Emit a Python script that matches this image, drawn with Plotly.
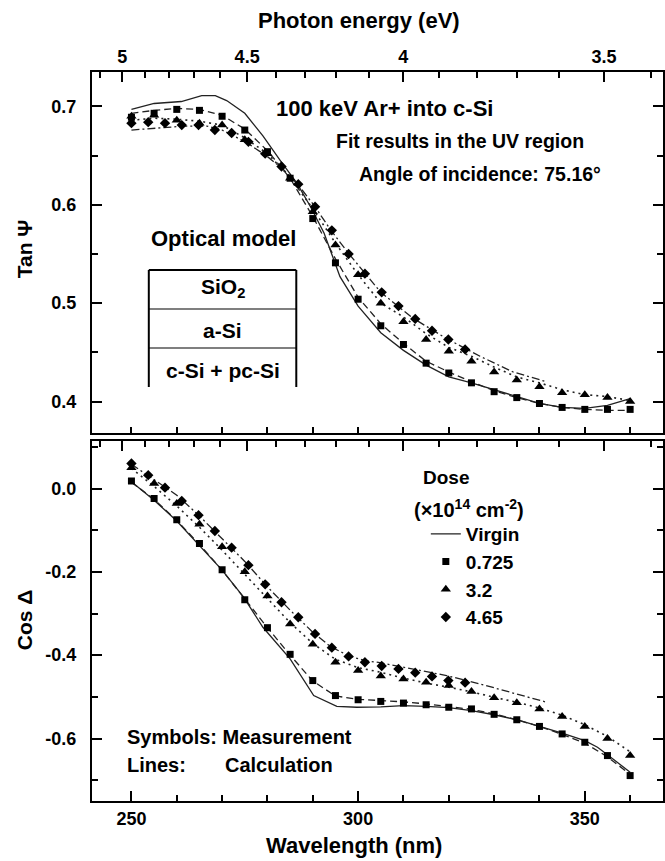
import plotly.graph_objects as go

# ---------------- data ----------------
wl = [250, 255, 260, 265, 270, 275, 280, 285, 290, 295, 300, 305,
      310, 315, 320, 325, 330, 335, 340, 345, 350, 355, 360]
wl_dia = [250, 253.7, 257.4, 261.1, 264.8, 268.4, 272.1, 275.8, 279.5, 283.1, 286.8,
          290.5, 294.2, 297.9, 301.5, 305.2, 308.9, 312.6, 316.3, 319.9, 323.6]

# Tan Psi, measurements
tan_sq = [0.689, 0.693, 0.697, 0.696, 0.690, 0.676, 0.654, 0.627, 0.586, 0.541, 0.504, 0.477,
          0.458, 0.439, 0.429, 0.419, 0.410, 0.404, 0.398, 0.394, 0.392, 0.392, 0.392]
tan_tri = [0.690, 0.691, 0.686, 0.683, 0.681, 0.666, 0.652, 0.627, 0.593, 0.559, 0.529, 0.500,
           0.481, 0.463, 0.451, 0.441, 0.430, 0.422, 0.415, 0.409, 0.407, 0.404, 0.400]
tan_dia = [0.683, 0.684, 0.683, 0.681, 0.681, 0.676, 0.673, 0.664, 0.652, 0.639, 0.621,
           0.598, 0.574, 0.550, 0.530, 0.511, 0.497, 0.484, 0.472, 0.463, 0.453]
# Tan Psi, calculations
wl_virgin_tan = [250, 255, 261, 265.5, 268.5, 271, 275, 279, 283, 286.5, 289.5, 292.5, 296,
                 300, 305, 310, 315, 320, 325, 330, 335, 340, 345, 350, 355, 360]
tan_virgin = [0.697, 0.703, 0.705, 0.711, 0.711, 0.706, 0.693, 0.670, 0.644, 0.622, 0.598, 0.571,
              0.527, 0.497, 0.470, 0.452, 0.437, 0.425, 0.419, 0.412, 0.405, 0.398, 0.394,
              0.393, 0.396, 0.403]
tan_fit_sq = [0.693, 0.696, 0.698, 0.697, 0.691, 0.677, 0.655, 0.627, 0.588, 0.545, 0.506, 0.479,
              0.459, 0.441, 0.430, 0.420, 0.411, 0.404, 0.398, 0.394, 0.392, 0.391, 0.391]
tan_fit_tri = [0.686, 0.688, 0.687, 0.685, 0.681, 0.668, 0.652, 0.628, 0.596, 0.561, 0.529, 0.500,
               0.486, 0.469, 0.455, 0.446, 0.435, 0.425, 0.419, 0.412, 0.407, 0.405, 0.401]
wl_fit_dia_tan = [250, 255.6, 261.5, 266.6, 270, 275.5, 280, 283.5, 287, 290.5, 294, 298,
                  301.5, 305, 312, 319.5, 326.9, 334.2, 341.6]
tan_fit_dia = [0.676, 0.678, 0.680, 0.680, 0.676, 0.663, 0.649, 0.636, 0.619, 0.598, 0.574,
               0.550, 0.530, 0.511, 0.485, 0.464, 0.446, 0.430, 0.420]

# Cos Delta, measurements
cos_sq = [0.018, -0.024, -0.075, -0.132, -0.195, -0.267, -0.334, -0.398, -0.461, -0.497, -0.507,
          -0.511, -0.515, -0.519, -0.525, -0.529, -0.542, -0.555, -0.571, -0.589, -0.609,
          -0.641, -0.689]
cos_tri = [0.050, 0.012, -0.036, -0.086, -0.140, -0.200, -0.258, -0.325, -0.374, -0.417, -0.437,
           -0.450, -0.457, -0.465, -0.473, -0.487, -0.502, -0.514, -0.529, -0.547, -0.571,
           -0.600, -0.641]
cos_dia = [0.060, 0.032, 0.002, -0.030, -0.064, -0.102, -0.142, -0.184, -0.230, -0.273, -0.309,
           -0.349, -0.382, -0.403, -0.417, -0.426, -0.433, -0.442, -0.451, -0.461, -0.466]
# Cos Delta, calculations
wl_virgin_cos = [250, 255, 260, 265, 270, 274.7, 279, 285, 290.2, 295.3, 299.7, 305, 310, 315,
                 320, 325, 330, 335, 340, 345, 350, 352.8, 355, 360]
cos_virgin = [0.016, -0.028, -0.078, -0.136, -0.196, -0.260, -0.333, -0.409, -0.497, -0.523,
              -0.525, -0.524, -0.521, -0.523, -0.526, -0.533, -0.543, -0.555, -0.571, -0.587,
              -0.605, -0.621, -0.639, -0.681]
cos_fit_sq = [0.015, -0.026, -0.077, -0.134, -0.196, -0.266, -0.334, -0.400, -0.462, -0.498,
              -0.506, -0.509, -0.512, -0.517, -0.523, -0.530, -0.541, -0.555, -0.571, -0.590,
              -0.611, -0.644, -0.686]
cos_fit_tri = [0.048, 0.005, -0.042, -0.093, -0.148, -0.206, -0.265, -0.322, -0.372, -0.410,
               -0.430, -0.441, -0.455, -0.467, -0.477, -0.488, -0.501, -0.513, -0.527, -0.544,
               -0.567, -0.595, -0.632]
wl_fit_dia_cos = [250, 255, 260, 265, 270, 275, 280, 285, 290, 294, 298, 301.5, 304.8, 312,
                  319.5, 326.9, 334.2, 341.6]
cos_fit_dia = [0.058, 0.022, -0.016, -0.066, -0.120, -0.175, -0.236, -0.292, -0.345, -0.380,
               -0.402, -0.413, -0.418, -0.433, -0.449, -0.469, -0.491, -0.513]

# axis ticks
wl_major = [250, 300, 350]
wl_major_text = ["250", "300", "350"]
wl_minor = [260, 270, 280, 290, 310, 320, 330, 340, 360]
wl_all = [250, 260, 270, 280, 290, 300, 310, 320, 330, 340, 350, 360]
ev_major = [5.0, 4.5, 4.0, 3.5]
ev_major_text = ["5", "4.5", "4", "3.5"]
ev_minor = [5.1, 4.9, 4.8, 4.7, 4.6, 4.4, 4.3, 4.2, 4.1, 3.9, 3.8, 3.7, 3.6, 3.4]
tan_major = [0.4, 0.5, 0.6, 0.7]
tan_major_text = ["0.4", "0.5", "0.6", "0.7"]
tan_minor = [0.45, 0.55, 0.65]
cos_major = [0.0, -0.2, -0.4, -0.6]
cos_major_text = ["0.0", "-0.2", "-0.4", "-0.6"]
cos_minor = [0.1, -0.1, -0.3, -0.5, -0.7]

HC = 1239.84  # eV*nm, energy -> wavelength


def ev2nm(vals):
    return [HC / v for v in vals]


# ---------------- layout geometry ----------------
W, H = 665, 861
L, R, T, B = 92, 665, 72, 801
TOP_BOT, BOT_TOP = 433, 441
XR = [241.3, 367.25]


def px(x):
    return (x - L) / (R - L)


def py(y):
    return (B - y) / (B - T)


FONT = "Liberation Sans, Arial, Helvetica, sans-serif"
BLACK = "black"

fig = go.Figure()

line_solid = dict(color="#222", width=1.3)
line_dash = dict(color="#222", width=1.3, dash="7px,4px")
line_dot = dict(color="#222", width=1.6, dash="2px,4px")
line_dashdot = dict(color="#222", width=1.3, dash="8px,3px,2px,3px")

# (line axis, marker axis, y axis, legend?) -- markers sit on the energy overlay axis,
# which shares the wavelength range, so positions are identical.
for xl, xm, ya, show in (("x2", "x3", "y2", False), ("x", "x4", "y", True)):
    top = ya == "y2"
    fig.add_trace(go.Scatter(x=wl_virgin_tan if top else wl_virgin_cos,
                             y=tan_virgin if top else cos_virgin,
                             mode="lines", line=line_solid, name="Virgin",
                             showlegend=show, xaxis=xl, yaxis=ya))
    fig.add_trace(go.Scatter(x=wl, y=tan_fit_sq if top else cos_fit_sq, mode="lines",
                             line=line_dash, showlegend=False, xaxis=xl, yaxis=ya))
    fig.add_trace(go.Scatter(x=wl, y=tan_fit_tri if top else cos_fit_tri, mode="lines",
                             line=line_dot, showlegend=False, xaxis=xl, yaxis=ya))
    fig.add_trace(go.Scatter(x=wl_fit_dia_tan if top else wl_fit_dia_cos,
                             y=tan_fit_dia if top else cos_fit_dia, mode="lines",
                             line=line_dashdot, showlegend=False, xaxis=xl, yaxis=ya))
    fig.add_trace(go.Scatter(x=wl, y=tan_sq if top else cos_sq, mode="markers", name="0.725",
                             marker=dict(symbol="square", size=7, color=BLACK),
                             showlegend=show, xaxis=xm, yaxis=ya))
    fig.add_trace(go.Scatter(x=wl, y=tan_tri if top else cos_tri, mode="markers", name="3.2",
                             marker=dict(symbol="triangle-up", size=9, color=BLACK),
                             showlegend=show, xaxis=xm, yaxis=ya))
    fig.add_trace(go.Scatter(x=wl_dia, y=tan_dia if top else cos_dia, mode="markers",
                             name="4.65",
                             marker=dict(symbol="diamond", size=8, color=BLACK),
                             showlegend=show, xaxis=xm, yaxis=ya))

tickfont = dict(family=FONT, size=18, color=BLACK, weight="bold")
axis_common = dict(showline=True, linecolor=BLACK, linewidth=2, ticks="inside",
                   tickcolor=BLACK, tickwidth=1.6, showgrid=False, zeroline=False,
                   tickfont=tickfont)
minor_common = dict(tickmode="array", ticks="inside", ticklen=6, tickcolor=BLACK,
                    tickwidth=1.6)

dom_top = [py(TOP_BOT), 1]
dom_bot = [0, py(BOT_TOP)]

fig.update_layout(
    width=W, height=H,
    margin=dict(l=L, r=W - R, t=T, b=H - B),
    paper_bgcolor="white", plot_bgcolor="white",
    font=dict(family=FONT, color=BLACK, weight="bold"),
    showlegend=True,
    # bottom panel, wavelength axis
    xaxis=dict(axis_common, range=XR, anchor="y", side="bottom", mirror=False,
               tickmode="array", tickvals=wl_major, ticktext=wl_major_text, ticklen=10,
               ticklabelstandoff=0,
               minor=dict(minor_common, tickvals=wl_minor)),
    # top panel, wavelength axis (no labels)
    xaxis2=dict(axis_common, range=XR, anchor="y2", side="bottom", mirror=False,
                tickmode="array", tickvals=wl_all, ticklen=6, showticklabels=False),
    # top panel, photon energy axis
    xaxis3=dict(axis_common, range=XR, anchor="y2", overlaying="x2", side="top",
                tickmode="array", tickvals=ev2nm(ev_major), ticktext=ev_major_text,
                ticklen=10, ticklabelstandoff=0,
                minor=dict(minor_common, tickvals=ev2nm(ev_minor))),
    # bottom panel, photon energy axis (no labels)
    xaxis4=dict(axis_common, range=XR, anchor="y", overlaying="x", side="top",
                tickmode="array", tickvals=ev2nm(ev_major), ticklen=10,
                showticklabels=False,
                minor=dict(minor_common, tickvals=ev2nm(ev_minor))),
    yaxis=dict(axis_common, domain=dom_bot, range=[-0.750, 0.114], mirror="ticks",
               tickmode="array", tickvals=cos_major, ticktext=cos_major_text, ticklen=10,
               ticklabelstandoff=10,
               minor=dict(minor_common, tickvals=cos_minor)),
    yaxis2=dict(axis_common, domain=dom_top, range=[0.368, 0.735], mirror="ticks",
                tickmode="array", tickvals=tan_major, ticktext=tan_major_text, ticklen=10,
                ticklabelstandoff=10,
                minor=dict(minor_common, tickvals=tan_minor)),
    legend=dict(x=px(427), y=py(515), xanchor="left", yanchor="top",
                bgcolor="rgba(0,0,0,0)", font=dict(family=FONT, size=19, weight="bold"),
                tracegroupgap=0, itemwidth=30),
)

# ---------------- annotations ----------------
def note(text, x, y, size=18, xanchor="left", angle=0):
    fig.add_annotation(text=text, x=px(x), y=py(y), xref="paper", yref="paper",
                       xanchor=xanchor, yanchor="middle", showarrow=False, textangle=angle,
                       font=dict(family=FONT, size=size, color=BLACK, weight="bold"))


# axis titles
note("Photon energy (eV)", 360, 20, 22, "center")
note("Wavelength (nm)", 355, 845, 22, "center")
note("Tan Ψ", 24, 249, 21, "center", -90)
note("Cos Δ", 24, 620, 21, "center", -90)

note("100 keV Ar+ into c-Si", 275, 109, 22)
note("Fit results in the UV region", 335, 141, 19.5)
note("Angle of incidence: 75.16°", 358, 174, 19.5)
note("Optical model", 149, 238, 22)
note("SiO<sub>2</sub>", 223, 288, 21, "center")
note("a-Si", 223, 330, 21, "center")
note("c-Si + pc-Si", 223, 370, 21, "center")
note("Dose", 422, 477, 19)
note("(×10<sup>14</sup> cm<sup>-2</sup>)", 413, 508, 20)
note("Symbols: Measurement", 125, 737, 20)
note("Lines:", 125, 765, 20)
note("Calculation", 223, 765, 20)

# optical model box
box_l, box_r, box_t, box_b = 149, 297, 270, 387
for (x0, y0, x1, y1, w) in ((box_l, box_t, box_l, box_b, 2), (box_r, box_t, box_r, box_b, 2),
                            (box_l, box_t, box_r, box_t, 2),
                            (box_l, 309, box_r, 309, 1.2), (box_l, 348, box_r, 348, 1.2)):
    fig.add_shape(type="line", xref="paper", yref="paper", x0=px(x0), y0=py(y0),
                  x1=px(x1), y1=py(y1), line=dict(color=BLACK, width=w))

fig.write_html("out.html")
